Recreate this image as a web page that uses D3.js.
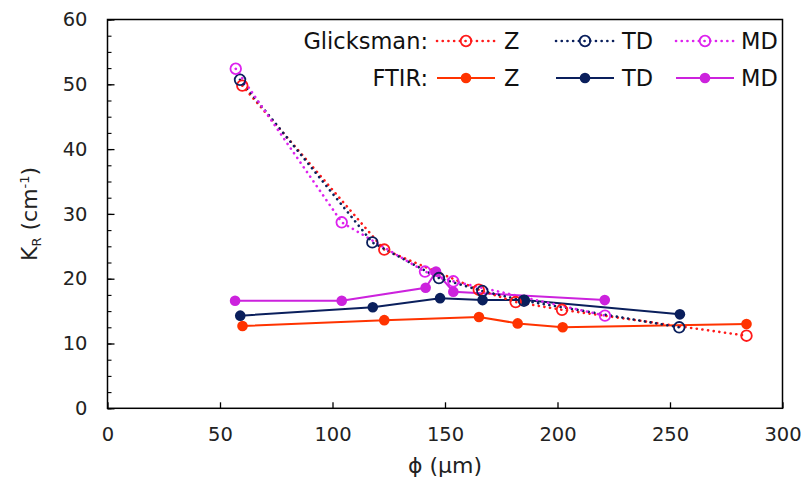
<!DOCTYPE html>
<html><head><meta charset="utf-8">
<script src="https://cdn.jsdelivr.net/npm/d3@7"></script>
<style>body{margin:0;background:#fff;} text{font-family:"DejaVu Sans",sans-serif;}</style>
</head><body><svg id="c" width="803" height="480"></svg>
<script>
const xTicks = [0,50,100,150,200,250,300];
const yTicks = [0,10,20,30,40,50,60];
const seriesNames = ["Z","TD","MD"];
const seriesColors = ["#ff1a1a","#0a1f5c","#dd22ee"];
const ftirColors = ["#ff3300","#0a1f5c","#cc22dd"];
// Glicksman
const gZ = [[59.9,49.8],[123,24.5],[165,18.3],[181.4,16.4],[202,15.2],[284,11.2]];
const gTD = [[58.9,50.7],[117.7,25.6],[147.3,20.1],[166.6,18.1],[185.1,16.6],[254.1,12.5]];
const gMD = [[57,52.4],[104.1,28.7],[141.1,21.1],[153.7,19.6],[221.1,14.3]];
// FTIR
const fZ = [[60,12.7],[123,13.6],[165.1,14.1],[182.3,13.1],[202.3,12.5],[284,13.0]];
const fTD = [[59,14.3],[117.9,15.6],[147.8,17.0],[166.7,16.7],[185.2,16.7],[254.4,14.5]];
const fMD = [[56.7,16.6],[104.1,16.6],[141.4,18.6],[146,21.1],[153.7,18.0],[221,16.7]];

const svg = d3.select("#c");
const L=107.5, R=782.5, T=19.5, B=408.3;
const x = d3.scaleLinear().domain([0,300]).range([L,R]);
const y = d3.scaleLinear().domain([0,60]).range([B,T]);

// frame
svg.append("rect").attr("x",L).attr("y",T).attr("width",R-L).attr("height",B-T)
  .attr("fill","none").attr("stroke","#000").attr("stroke-width",1.5);

// x axis
const xa = svg.append("g").attr("transform",`translate(0,${B})`)
  .call(d3.axisBottom(x).tickValues(xTicks).tickSizeInner(-6).tickSizeOuter(0).tickPadding(19));
xa.select(".domain").remove();
xa.selectAll("line").attr("stroke","#000").attr("stroke-width",1.3);
xa.selectAll("text").attr("font-size",19.5).attr("fill","#222").attr("font-family","DejaVu Sans");

// y axis minor
const minor = d3.range(0,60.1,2.5);
const ym = svg.append("g").attr("transform",`translate(${L},0)`)
  .call(d3.axisLeft(y).tickValues(minor).tickSizeInner(-4).tickSizeOuter(0).tickFormat(""));
ym.select(".domain").remove();
ym.selectAll("line").attr("stroke","#000").attr("stroke-width",1.1);
const ya = svg.append("g").attr("transform",`translate(${L},0)`)
  .call(d3.axisLeft(y).tickValues(yTicks).tickSizeInner(-7).tickSizeOuter(0).tickPadding(20));
ya.select(".domain").remove();
ya.selectAll("line").attr("stroke","#000").attr("stroke-width",1.3);
ya.selectAll("text").attr("font-size",19.5).attr("fill","#222").attr("font-family","DejaVu Sans");

// titles
svg.append("text").attr("x",(L+R)/2).attr("y",473).attr("text-anchor","middle")
  .attr("font-size",22).attr("fill","#222").text("ϕ (µm)");
const yt = svg.append("text").attr("transform",`translate(37,${(T+B)/2}) rotate(-90)`)
  .attr("text-anchor","middle").attr("font-size",22).attr("fill","#222");
yt.append("tspan").text("K");
yt.append("tspan").attr("font-size",13).attr("dy",4).text("R");
yt.append("tspan").attr("dy",-4).text(" (cm");
yt.append("tspan").attr("font-size",13).attr("dy",-8).text("-1");
yt.append("tspan").attr("dy",8).text(")");

const line = d3.line().x(d=>x(d[0])).y(d=>y(d[1]));
const gData=[gZ,gTD,gMD], fData=[fZ,fTD,fMD];

// FTIR lines
fData.forEach((s,i)=>{
  svg.append("path").datum(s).attr("d",line).attr("fill","none")
    .attr("stroke",ftirColors[i]).attr("stroke-width",2);
});
// Glicksman dotted lines
gData.forEach((s,i)=>{
  svg.append("path").datum(s).attr("d",line).attr("fill","none")
    .attr("stroke",seriesColors[i]).attr("stroke-width",2.6)
    .attr("stroke-dasharray","0.1,5.6").attr("stroke-linecap","round");
});
fData.forEach((s,i)=>{
  svg.append("g").selectAll("circle").data(s).join("circle")
    .attr("cx",d=>x(d[0])).attr("cy",d=>y(d[1])).attr("r",5.3).attr("fill",ftirColors[i]);
});
gData.forEach((s,i)=>{
  svg.append("g").selectAll("circle").data(s).join("circle")
    .attr("cx",d=>x(d[0])).attr("cy",d=>y(d[1])).attr("r",5.3).attr("fill","none")
    .attr("stroke",seriesColors[i]).attr("stroke-width",1.8);
});

// legend
const rowsY=[41,78];
const lx=[437,556,676], tx=[504,622,741];
const fs=22.5;
svg.append("text").attr("x",428).attr("y",rowsY[0]+8).attr("text-anchor","end").attr("font-size",fs).attr("fill","#111").text("Glicksman:");
svg.append("text").attr("x",428).attr("y",rowsY[1]+8).attr("text-anchor","end").attr("font-size",fs).attr("fill","#111").text("FTIR:");
seriesNames.forEach((n,i)=>{
  const x0=lx[i], x1=lx[i]+58, cx=(x0+x1)/2;
  svg.append("line").attr("x1",x0).attr("x2",x1).attr("y1",rowsY[0]).attr("y2",rowsY[0])
    .attr("stroke",seriesColors[i]).attr("stroke-width",2.6).attr("stroke-dasharray","0.1,5.6").attr("stroke-linecap","round");
  svg.append("circle").attr("cx",cx).attr("cy",rowsY[0]).attr("r",5.3).attr("fill","none").attr("stroke",seriesColors[i]).attr("stroke-width",1.8);
  svg.append("text").attr("x",tx[i]).attr("y",rowsY[0]+8).attr("font-size",fs).attr("fill","#111").text(n);
  svg.append("line").attr("x1",x0).attr("x2",x1).attr("y1",rowsY[1]).attr("y2",rowsY[1])
    .attr("stroke",ftirColors[i]).attr("stroke-width",2);
  svg.append("circle").attr("cx",cx).attr("cy",rowsY[1]).attr("r",5.3).attr("fill",ftirColors[i]);
  svg.append("text").attr("x",tx[i]).attr("y",rowsY[1]+8).attr("font-size",fs).attr("fill","#111").text(n);
});
</script></body></html>
